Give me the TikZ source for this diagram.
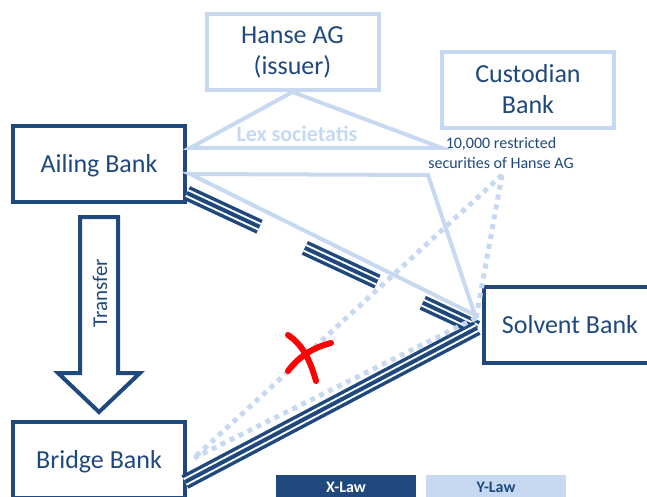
\documentclass[tikz,border=0pt]{standalone}
\usepackage{fontspec}
\setmainfont{Carlito}
\definecolor{navy}{HTML}{1F497D}
\definecolor{pale}{HTML}{C6D9F1}
\tikzset{
  navybox/.style={draw=navy, line width=4pt, fill=white, text=navy,
    minimum width=172pt, minimum height=76pt, inner sep=0pt,
    text depth=2pt, font=\fontsize{26}{31}\selectfont, align=center},
  palebox/.style={navybox, draw=pale},
  paleline/.style={draw=pale, line width=4pt, line join=miter},
  dotline/.style={draw=pale, line width=5pt, dash pattern=on 5pt off 5pt},
  triple/.style={draw=navy, line width=15pt,
    postaction={draw=white, line width=8pt},
    postaction={draw=navy, line width=4pt}},
  redx/.style={draw=red, line width=6pt, line cap=round},
  legend/.style={minimum width=140pt, minimum height=30pt, inner sep=0pt}
}
\begin{document}
\begin{tikzpicture}[x=1pt, y=-1pt]
\useasboundingbox (0,0) rectangle (647,497);
\clip (0,0) rectangle (647,497);

% boxes
\node[palebox] (hanse) at (292.5,52) {Hanse AG\\(issuer)};
\node[palebox] (cust) at (528,90) {Custodian\\Bank};
\node[navybox] (ail) at (99,164) {Ailing Bank};
\node[navybox] (bridge) at (99,460) {Bridge Bank};
\node[navybox] (solv) at (570,325) {Solvent Bank};

% anchor points of the connectors
\coordinate (lexL) at (190,148);
\coordinate (lexR) at (442,148);
\coordinate (ailP) at (190,174);
\coordinate (bend) at (428,175);
\coordinate (solP) at (475,315);
\coordinate (ailT) at (187,193);
\coordinate (briT) at (185,482);
\coordinate (solT) at (477,328);
\coordinate (secP) at (502,175);
\coordinate (briD) at (194,458);
\coordinate (solD) at (476,318);

% lex societatis triangle below the issuer
\draw[paleline] (hanse.south) -- (lexL) -- (lexR) -- cycle;
\node[text=pale, font=\fontsize{22}{26}\selectfont\bfseries, anchor=base]
  (lex) at (297,142) {Lex societatis};

% securities label
\node[text=navy, font=\fontsize{16}{20}\selectfont, align=center]
  (sec) at (501,153) {10,000 restricted\\securities of Hanse AG};

% Y-law relations
\draw[paleline] (ailP) -- (bend) -- (solP) -- cycle;

% X-law relations
\draw[triple, dash pattern=on 80pt off 50pt] (ailT) -- (solT);
\draw[triple] (briT) -- (solT);

% dotted holdings
\draw[dotline] (secP) -- (briD);
\draw[dotline] (secP) -- (solD);
\draw[dotline] (solD) -- (briD);

% transfer arrow
\draw[draw=navy, line width=4pt, fill=white, line join=miter]
  (80,217) -- (118,217) -- (118,373) -- (140,373) -- (99,412)
  -- (58,373) -- (80,373) -- cycle;
\node[text=navy, rotate=90, font=\fontsize{21}{25}\selectfont]
  (transfer) at (100,293) {Transfer};

% red cross
\draw[redx] (288,335) .. controls (303,345) and (310,360) .. (316,381);
\draw[redx] (288,371) .. controls (300,355) and (315,347) .. (331,343);

% legend
\node[legend, fill=navy, anchor=north west] (xlaw) at (276,475) {};
\node[legend, fill=pale, anchor=north west] (ylaw) at (426,475) {};
\node[text=white, font=\fontsize{16}{18}\selectfont\bfseries, anchor=base]
  at (346,492) {X-Law};
\node[text=navy, font=\fontsize{16}{18}\selectfont\bfseries, anchor=base]
  at (496,492) {Y-Law};
\end{tikzpicture}
\end{document}
